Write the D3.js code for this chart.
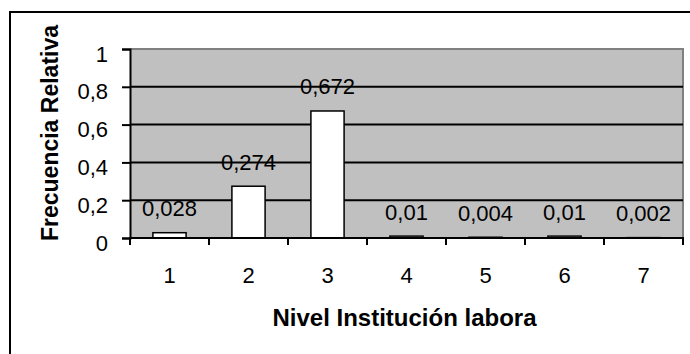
<!DOCTYPE html>
<html>
<head>
<meta charset="utf-8">
<script src="https://cdn.jsdelivr.net/npm/d3@7"></script>
<style>
  body { margin: 0; background: #fff; }
  text { font-family: Arial, "Liberation Sans", sans-serif; fill: #000; }
</style>
</head>
<body>
<svg width="690" height="354"></svg>
<script>
// data
const categories = ["1", "2", "3", "4", "5", "6", "7"]
const values = [0.028, 0.274, 0.672, 0.01, 0.004, 0.01, 0.002]
const valueLabels = ["0,028", "0,274", "0,672", "0,01", "0,004", "0,01", "0,002"]
const yTicks = [0, 0.2, 0.4, 0.6, 0.8, 1]
const yTickLabels = ["0", "0,2", "0,4", "0,6", "0,8", "1"]

const svg = d3.select("svg")
const plot = {left: 130, right: 683, top: 49, bottom: 238}

// outer chart border
svg.append("rect")
    .attr("x", 10).attr("y", 12)
    .attr("width", 700).attr("height", 360)
    .attr("fill", "none")
    .attr("stroke", "#000")
    .attr("stroke-width", 2)

const x = d3.scaleBand()
    .domain(categories)
    .range([plot.left, plot.right])
    .paddingInner(0.58)
    .paddingOuter(0.29)

const y = d3.scaleLinear()
    .domain([0, 1])
    .range([plot.bottom, plot.top])

// plot area
svg.append("rect")
    .attr("x", plot.left).attr("y", plot.top)
    .attr("width", plot.right - plot.left)
    .attr("height", plot.bottom - plot.top)
    .attr("fill", "#c0c0c0")

svg.append("path")
    .attr("d", `M${plot.left},${plot.top}H${plot.right}V${plot.bottom}`)
    .attr("fill", "none")
    .attr("stroke", "#808080")
    .attr("stroke-width", 2)

// gridlines
svg.append("g")
    .selectAll("line")
    .data(yTicks.filter(d => d > 0 && d < 1))
    .enter().append("line")
    .attr("x1", plot.left).attr("x2", plot.right)
    .attr("y1", d => y(d)).attr("y2", d => y(d))
    .attr("stroke", "#000")
    .attr("stroke-width", 2)

// bars
svg.append("g")
    .selectAll("rect")
    .data(values)
    .enter().append("rect")
    .attr("x", (d, i) => x(categories[i]))
    .attr("y", d => y(d))
    .attr("width", x.bandwidth())
    .attr("height", d => y(0) - y(d))
    .attr("fill", "#fff")
    .attr("stroke", "#000")
    .attr("stroke-width", 1.5)

// value labels
svg.append("g")
    .selectAll("text")
    .data(values)
    .enter().append("text")
    .attr("x", (d, i) => x(categories[i]) + x.bandwidth() / 2)
    .attr("y", d => y(d) - 16.5)
    .attr("text-anchor", "middle")
    .attr("font-size", 22)
    .text((d, i) => valueLabels[i])

// y axis
const yAxis = svg.append("g")
    .attr("transform", `translate(${plot.left},0)`)
    .call(d3.axisLeft(y).tickValues(yTicks)
        .tickFormat((d, i) => yTickLabels[i])
        .tickSize(8).tickPadding(14))
yAxis.select(".domain").attr("stroke", "#000").attr("stroke-width", 2)
yAxis.selectAll(".tick line").attr("stroke", "#000").attr("stroke-width", 2)
yAxis.selectAll(".tick text")
    .attr("font-size", 22)
    .attr("font-family", "Arial, 'Liberation Sans', sans-serif")
    .attr("dy", 12)

// x axis with ticks between categories
const step = x.step()
const xEdges = d3.range(categories.length + 1).map(i => plot.left + i * step)
svg.append("line")
    .attr("x1", plot.left - 1).attr("x2", plot.right + 1)
    .attr("y1", plot.bottom).attr("y2", plot.bottom)
    .attr("stroke", "#000").attr("stroke-width", 2)
svg.append("g")
    .selectAll("line")
    .data(xEdges)
    .enter().append("line")
    .attr("x1", d => d).attr("x2", d => d)
    .attr("y1", plot.bottom).attr("y2", plot.bottom + 7)
    .attr("stroke", "#000").attr("stroke-width", 2)
svg.append("g")
    .selectAll("text")
    .data(categories)
    .enter().append("text")
    .attr("x", d => x(d) + x.bandwidth() / 2)
    .attr("y", 283)
    .attr("text-anchor", "middle")
    .attr("font-size", 22)
    .text(d => d)

// axis titles
svg.append("text")
    .attr("x", (plot.left + plot.right) / 2 - 2)
    .attr("y", 326)
    .attr("text-anchor", "middle")
    .attr("font-size", 24)
    .attr("font-weight", "bold")
    .text("Nivel Institución labora")

svg.append("text")
    .attr("transform", "translate(58,133) rotate(-90)")
    .attr("text-anchor", "middle")
    .attr("font-size", 23)
    .attr("font-weight", "bold")
    .text("Frecuencia Relativa")
</script>
</body>
</html>
